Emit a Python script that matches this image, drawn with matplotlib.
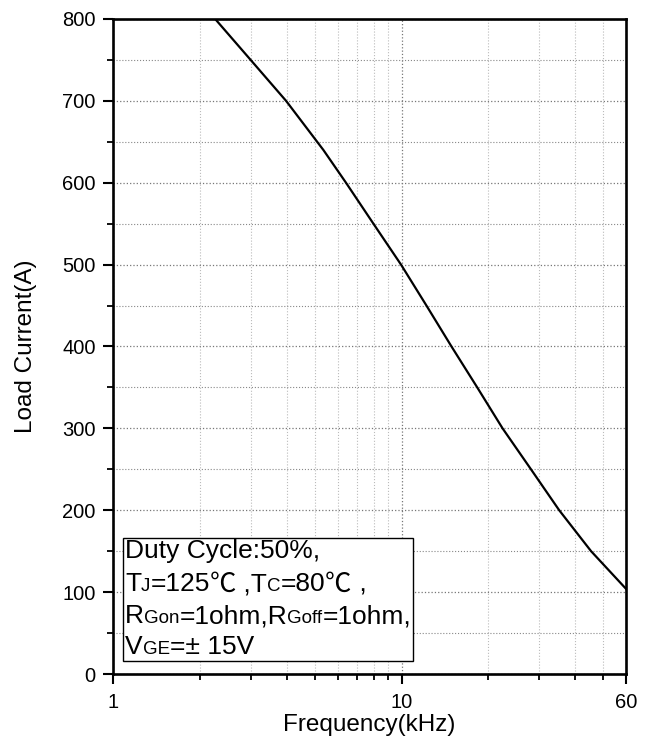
import numpy as np
import matplotlib as mpl
mpl.use('Agg')
import matplotlib.pyplot as plt
from matplotlib.ticker import FixedLocator, NullFormatter
from matplotlib.offsetbox import TextArea, HPacker, VPacker, AnchoredOffsetbox

plt.rcParams['font.family'] = ['Liberation Sans', 'Noto Sans CJK SC', 'DejaVu Sans']

# curve: frequency (kHz) vs load current (A)
freq_khz = [2.26, 3.0, 3.98, 5.36, 6.42, 7.99, 9.96, 12.2, 14.9, 18.3, 22.4, 28.1, 35.2, 45.4, 60.0]
current_a = [800, 750, 700, 640, 600, 550, 500, 450, 400, 350, 300, 250, 200, 150, 104]

x_major = [1, 10, 60]
x_minor = [2, 3, 4, 5, 6, 7, 8, 9, 20, 30, 40, 50]
y_major = [0, 100, 200, 300, 400, 500, 600, 700, 800]
y_minor = [50, 150, 250, 350, 450, 550, 650, 750]

fig = plt.figure(figsize=(6.46, 7.41), dpi=100)
ax = fig.add_axes([0.1749, 0.0904, 0.7942, 0.884])

ax.plot(freq_khz, current_a, color='black', lw=1.6, solid_joinstyle='round')

ax.set_xscale('log')
ax.set_xlim(1, 60)
ax.set_ylim(0, 800)

ax.xaxis.set_major_locator(FixedLocator(x_major))
ax.xaxis.set_minor_locator(FixedLocator(x_minor))
ax.xaxis.set_minor_formatter(NullFormatter())
ax.set_xticklabels([str(v) for v in x_major])
ax.yaxis.set_major_locator(FixedLocator(y_major))
ax.yaxis.set_minor_locator(FixedLocator(y_minor))

ax.tick_params(which='major', direction='out', length=7.5, width=1.5, labelsize=14.5)
ax.tick_params(axis='x', which='major', pad=6.5)
ax.tick_params(axis='y', which='major', pad=5)
ax.tick_params(which='minor', direction='out', length=4.5, width=1.3)
for s in ax.spines.values():
    s.set_linewidth(1.9)

ax.grid(which='major', linestyle=':', color='#777777', lw=0.9)
ax.grid(which='minor', axis='y', linestyle=':', color='#888888', lw=0.8)
ax.grid(which='minor', axis='x', linestyle=':', color='#bbbbbb', lw=0.8)
ax.set_axisbelow(True)

ax.set_xlabel('Frequency(kHz)', fontsize=17.5, labelpad=1)
ax.set_ylabel('Load Current(A)', fontsize=17.5, labelpad=18)

# condition box with small-letter subscripts on the baseline
big, small = 19, 13.5
def part(s, size, cjk=False):
    props = dict(fontsize=size, color='black')
    if cjk:
        props['family'] = ['Noto Sans CJK SC', 'DejaVu Sans']
    return TextArea(s, textprops=props)

def line(*pieces):
    return HPacker(children=[part(*p) for p in pieces], align='baseline', pad=0, sep=0)

rows = [
    line(('Duty Cycle:50%,', big)),
    line(('T', big), ('J', small), ('=125', big), ('\u2103', big, True), (' ,T', big),
         ('C', small), ('=80', big), ('\u2103', big, True), (' ,', big)),
    line(('R', big), ('Gon', small), ('=1ohm,R', big), ('Goff', small), ('=1ohm,', big)),
    line(('V', big), ('GE', small), ('=\u00b1 15V', big)),
]
box = VPacker(children=rows, align='left', pad=0, sep=5)
anch = AnchoredOffsetbox(loc='lower left', child=box, pad=0.12, borderpad=0,
                         bbox_to_anchor=(0.02, 0.02), bbox_transform=ax.transAxes, frameon=True)
anch.patch.set_edgecolor('black')
anch.patch.set_linewidth(1.0)
anch.patch.set_boxstyle('square', pad=0)
ax.add_artist(anch)

plt.savefig('out.png', dpi=100)
